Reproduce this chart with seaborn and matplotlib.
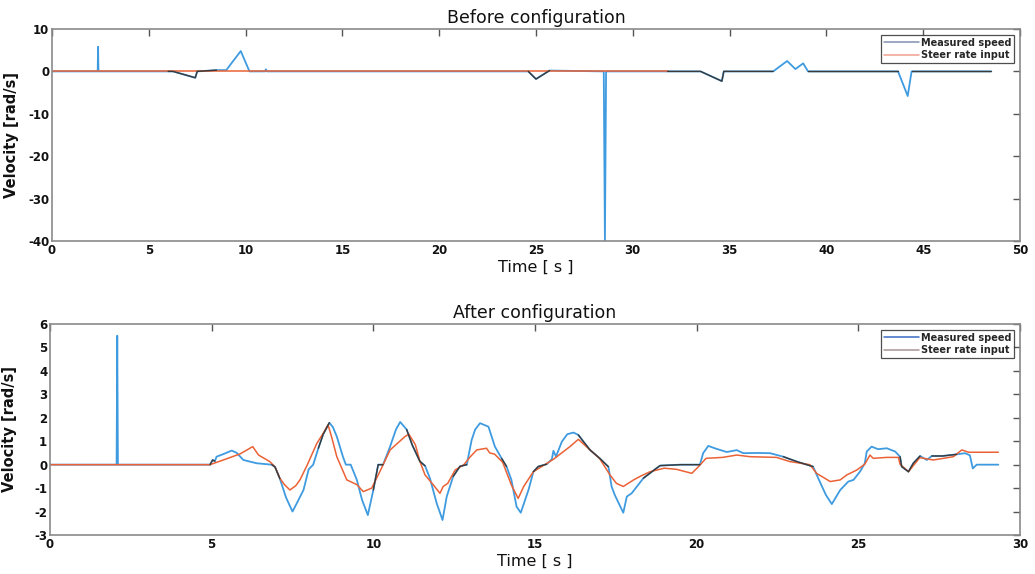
import numpy as np
import pandas as pd
import matplotlib
matplotlib.use("Agg")
import matplotlib.pyplot as plt
from matplotlib.lines import Line2D
import seaborn as sns

# ---- Before configuration (0-50 s) ----
t_before_meas = [0, 2.36, 2.38, 2.40, 6.0, 6.25, 7.4, 7.5, 8.5, 9.0, 9.75, 10.2, 11.0,
                 11.05, 11.1, 24.6, 25.0, 25.7, 28.5, 28.56, 28.62, 31.8, 33.5, 34.6, 34.7,
                 37.25, 37.97, 38.4, 38.8, 39.05, 43.7, 44.2, 44.4, 48.5]
v_before_meas = [0, 0, 5.8, 0, 0, 0, -1.5, 0, 0.3, 0.3, 4.8, 0, 0,
                 0.5, 0, 0, -1.8, 0.2, 0, -40, 0, 0, 0, -2.3, 0,
                 0, 2.45, 0.55, 1.9, 0, 0, -5.8, 0, 0]
t_before_input = [0, 31.8]
v_before_input = [0, 0]

# ---- After configuration (0-30 s) ----
t_after_meas = [0, 2.06, 2.08, 2.10, 4.95, 5.03, 5.1, 5.15, 5.36, 5.62, 5.77, 5.98, 6.39,
                6.86, 6.96, 7.11, 7.3, 7.5, 7.65, 7.84, 8.0, 8.14, 8.3, 8.45, 8.64, 8.75,
                8.87, 9.06, 9.15, 9.3, 9.49, 9.65, 9.83, 10.0, 10.15, 10.3, 10.5, 10.7,
                10.83, 11.03, 11.2, 11.44, 11.6, 11.75, 11.96, 12.14, 12.27, 12.47, 12.68,
                12.89, 13.04, 13.15, 13.3, 13.56, 13.76, 13.97, 14.12, 14.27, 14.43, 14.56,
                14.8, 14.95, 15.1, 15.36, 15.52, 15.57, 15.65, 15.83, 16.0, 16.19, 16.34,
                16.5, 16.7, 17.01, 17.27, 17.37, 17.47, 17.73, 17.84, 17.99, 18.35, 18.71,
                18.87, 19.5, 20.1, 20.2, 20.36, 20.6, 20.93, 21.24, 21.44, 21.9, 22.27,
                22.68, 23.1, 23.5, 23.6, 23.76, 24.0, 24.18, 24.44, 24.69, 24.85, 25.05,
                25.2, 25.26, 25.41, 25.61, 25.88, 26.14, 26.29, 26.34, 26.55, 26.7, 26.91,
                27.12, 27.27, 27.6, 28.04, 28.3, 28.45, 28.54, 28.66, 29.33]
v_after_meas = [0, 0, 5.5, 0, 0, 0.2, 0.15, 0.34, 0.45, 0.6, 0.51, 0.2, 0.06,
                0.0, -0.1, -0.6, -1.4, -2.0, -1.6, -1.08, -0.2, 0.0, 0.7, 1.3, 1.79, 1.6,
                1.2, 0.34, 0.0, 0.0, -0.65, -1.5, -2.15, -1.08, 0.0, 0.0, 0.7, 1.5,
                1.82, 1.5, 0.85, 0.14, -0.05, -0.58, -1.65, -2.36, -1.36, -0.5, -0.07,
                0.0, 1.05, 1.5, 1.77, 1.62, 0.77, 0.26, -0.08, -0.65, -1.79, -2.05,
                -1.07, -0.3, -0.08, 0.02, 0.23, 0.59, 0.35, 0.98, 1.3, 1.37, 1.27,
                0.98, 0.63, 0.26, -0.09, -0.94, -1.3, -2.05, -1.36, -1.22, -0.58, -0.2,
                -0.04, 0.0, 0.0, 0.49, 0.8, 0.68, 0.54, 0.62, 0.49, 0.5, 0.49,
                0.34, 0.13, -0.04, -0.08, -0.58, -1.3, -1.68, -1.08, -0.72, -0.65, -0.3,
                0.06, 0.56, 0.77, 0.66, 0.7, 0.56, 0.34, -0.08, -0.3, 0.06, 0.37,
                0.2, 0.37, 0.37, 0.44, 0.49, 0.4, -0.16, 0.0, 0.0]
t_after_input = [0, 4.95, 5.36, 5.88, 6.27, 6.45, 6.8, 6.96, 7.11, 7.25, 7.42, 7.6, 7.73,
                 7.94, 8.25, 8.45, 8.6, 8.72, 8.87, 9.18, 9.49, 9.69, 9.95, 10.2, 10.52,
                 10.98, 11.1, 11.3, 11.44, 11.6, 11.86, 12.06, 12.16, 12.3, 12.53, 12.8,
                 13.0, 13.2, 13.5, 13.6, 13.75, 14.0, 14.27, 14.48, 14.65, 14.95, 15.3,
                 15.57, 16.08, 16.34, 16.7, 17.0, 17.32, 17.52, 17.73, 18.05, 18.25,
                 18.56, 19.0, 19.38, 19.85, 20.06, 20.29, 20.8, 21.24, 21.65, 22.47,
                 22.89, 23.5, 23.71, 24.13, 24.44, 24.64, 24.95, 25.2, 25.36, 25.46,
                 25.88, 26.24, 26.29, 26.55, 26.9, 27.32, 27.94, 28.2, 28.41, 29.33]
v_after_input = [0, 0, 0.2, 0.46, 0.77, 0.41, 0.13, -0.1, -0.58, -0.85, -1.08, -0.9, -0.65,
                 -0.06, 0.9, 1.34, 1.7, 1.13, 0.34, -0.65, -0.85, -1.15, -1.0, -0.3, 0.63,
                 1.2, 1.3, 0.85, 0.14, -0.44, -0.87, -1.22, -0.93, -0.8, -0.23, 0.0,
                 0.34, 0.63, 0.7, 0.5, 0.45, 0.1, -0.87, -1.44, -0.93, -0.3, 0.0,
                 0.23, 0.77, 1.08, 0.63, 0.26, -0.44, -0.8, -0.93, -0.65, -0.5,
                 -0.3, -0.15, -0.2, -0.37, -0.08, 0.27, 0.31, 0.41, 0.34, 0.31,
                 0.13, 0.0, -0.37, -0.72, -0.65, -0.44, -0.23, 0.02, 0.41, 0.27,
                 0.31, 0.31, 0.02, -0.3, 0.3, 0.2, 0.34, 0.63, 0.53, 0.53]

# time windows where the measured trace is rendered dark
dark_before = [(6.0, 8.5), (24.6, 25.7), (31.8, 37.25), (39.05, 43.7), (44.4, 48.5)]
dark_after = [(4.95, 5.1), (6.86, 7.11), (8.3, 8.64), (10.0, 10.3), (11.03, 11.6),
              (12.47, 12.89), (13.97, 14.12), (14.95, 15.36), (16.34, 17.27),
              (18.35, 20.1), (22.68, 23.6), (26.29, 26.91), (27.27, 28.04)]

BLUE = "#3f9be0"
RED = "#ea6236"
DARK = "#3a3a3a"
SPINE = "#8a8a8a"

sns.set_theme(style="white")
plt.rcParams["font.family"] = ["DejaVu Sans"]
plt.rcParams["axes.unicode_minus"] = False

fig = plt.figure(figsize=(10.35, 5.74), dpi=100)
ax1 = fig.add_axes([52 / 1035, 1 - 241 / 574, 968 / 1035, 212 / 574])
ax2 = fig.add_axes([50 / 1035, 1 - 535 / 574, 970 / 1035, 211 / 574])


def draw_panel(ax, tm, vm, ti, vi, spans, xlim, ylim, xticks, yticks, title,
               leg_colors):
    meas = pd.DataFrame({"t": tm, "v": vm})
    inp = pd.DataFrame({"t": ti, "v": vi})
    sns.lineplot(data=meas, x="t", y="v", ax=ax, color=BLUE, lw=1.3,
                 estimator=None, sort=False)
    sns.lineplot(data=inp, x="t", y="v", ax=ax, color=RED, lw=1.1,
                 estimator=None, sort=False)
    for a, b in spans:
        seg = meas[(meas["t"] >= a) & (meas["t"] <= b)]
        if len(seg) > 1:
            sns.lineplot(data=seg, x="t", y="v", ax=ax, color=DARK, lw=1.0,
                         estimator=None, sort=False)
    ax.set_xlim(*xlim)
    ax.set_ylim(*ylim)
    ax.set_xticks(xticks)
    ax.set_yticks(yticks)
    ax.set_title(title, fontsize=12.5, pad=4, color="#111111")
    ax.set_xlabel("Time [ s ]", fontsize=11.5, labelpad=2, color="#111111")
    ax.set_ylabel("Velocity [rad/s]", fontsize=10.5, fontweight="bold",
                  color="#111111")
    ax.yaxis.set_label_coords(-0.034, 0.5)
    ax.tick_params(direction="in", length=5, width=1, color="#555555",
                   top=True, right=True, labelsize=8.5, pad=2)
    for lab in ax.get_xticklabels() + ax.get_yticklabels():
        lab.set_fontweight("bold")
        lab.set_color("#111111")
    for sp in ax.spines.values():
        sp.set_color(SPINE)
        sp.set_linewidth(1.2)
    handles = [Line2D([], [], color=leg_colors[0], lw=1.1),
               Line2D([], [], color=leg_colors[1], lw=1.1)]
    leg = ax.legend(handles, ["Measured speed", "Steer rate input"],
                    loc="upper right", frameon=True, fancybox=False,
                    handlelength=3.6, handletextpad=0.2, borderpad=0.3,
                    labelspacing=0.25, borderaxespad=0.6,
                    prop={"weight": "bold", "size": 7})
    leg.get_frame().set_edgecolor("#222222")
    leg.get_frame().set_linewidth(0.9)


draw_panel(ax1, t_before_meas, v_before_meas, t_before_input, v_before_input,
           dark_before, (0, 50), (-40, 10), range(0, 51, 5), range(-40, 11, 10),
           "Before configuration", ("#8390b0", "#f0a090"))
draw_panel(ax2, t_after_meas, v_after_meas, t_after_input, v_after_input,
           dark_after, (0, 30), (-3, 6), range(0, 31, 5), range(-3, 7, 1),
           "After configuration", ("#3a6cc4", "#a89494"))

fig.savefig("out.png", dpi=100)
